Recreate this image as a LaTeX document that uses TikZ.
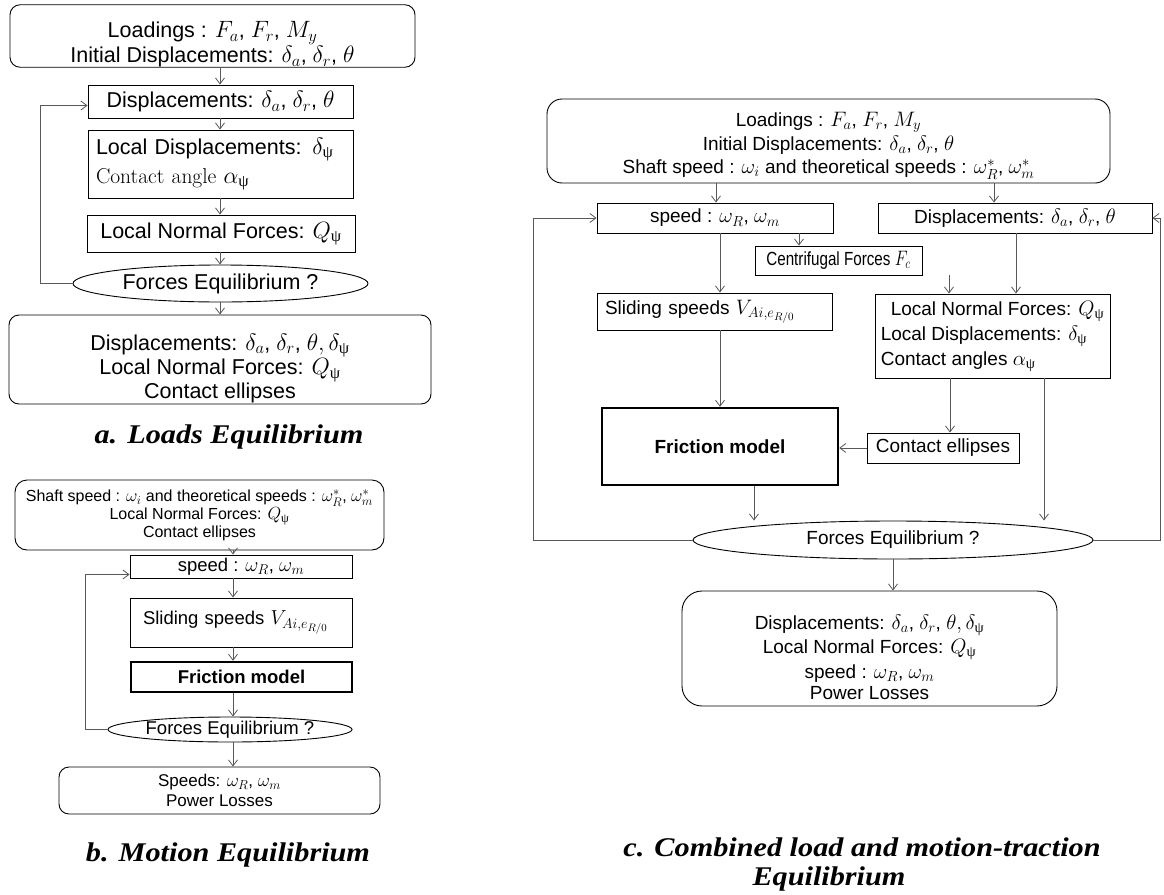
\RequirePackage{fix-cm}
\documentclass[tikz,border=0pt]{standalone}
\usepackage{amsmath}
\usepackage{graphicx}
\usepackage{fontspec}
\setsansfont{Liberation Sans}
\newfontfamily\capfont{Liberation Serif}
\newfontfamily\grkfont{Liberation Serif}
\usetikzlibrary{shapes.geometric,arrows.meta}
\DeclareMathSizes{21.5}{23.6}{16.5}{12.5}
\DeclareMathSizes{19}{20.9}{14.6}{11}
\DeclareMathSizes{18.5}{20.3}{14.2}{10.8}
\DeclareMathSizes{16}{17.6}{12.4}{9.3}
\DeclareMathSizes{17}{18.7}{13}{10}
\newcommand{\mypsi}{\text{\grkfont ψ}}
\newcommand{\fntA}{\sffamily\fontsize{21.5}{25}\selectfont}
\newcommand{\fntAb}{\sffamily\fontsize{21.5}{22}\selectfont}
\newcommand{\fntC}{\sffamily\fontsize{19}{24}\selectfont}
\newcommand{\fntCa}{\sffamily\fontsize{19}{23.5}\selectfont}
\newcommand{\fntCb}{\sffamily\fontsize{19}{25}\selectfont}
\newcommand{\fntCc}{\sffamily\fontsize{19}{24.5}\selectfont}
\newcommand{\fntB}{\sffamily\fontsize{18.5}{22}\selectfont}
\newcommand{\fntBtop}{\sffamily\fontsize{16}{18}\selectfont}
\newcommand{\fntBbot}{\sffamily\fontsize{17}{20}\selectfont}
\tikzset{
  box/.style={draw=black, line width=0.9pt, rectangle, inner sep=0pt, align=center},
  rbox/.style={box, rounded corners=12pt},
  fricbox/.style={box, line width=2.4pt},
  ell/.style={draw=black, ellipse, inner sep=0pt, line width=0.9pt},
  arr/.style={draw=black!65, line width=0.8pt, -{Straight Barb[length=6pt,width=9pt]}},
  capt/.style={font=\capfont\bfseries\itshape\fontsize{27}{32}\selectfont, inner sep=0pt}
}
\begin{document}
\begin{tikzpicture}[x=1pt,y=-1pt]
\useasboundingbox (0,0) rectangle (1164,894);
% ---------------- panel a ----------------
\node[rbox, rounded corners=10pt, minimum width=405, minimum height=62, font=\fntA] (a1) at (212.5,36)
  {\rule{0pt}{33pt}Loadings : $F_a$, $F_r$, $M_y$\\Initial Displacements: $\delta_a$, $\delta_r$, $\theta$};
\node[box, minimum width=265, minimum height=33, font=\fntA] (a2) at (220.5,101.5)
  {Displacements: $\delta_a$, $\delta_r$, $\theta$};
\node[box, minimum width=265, minimum height=68, font=\fntA, text width=249, align=left] (a3) at (220.5,164)
  {Local Displacements: $\delta_{\mypsi}$\\[4pt]{\rmfamily Contact angle} $\alpha_{\mypsi}$};
\node[box, minimum width=268, minimum height=37, font=\fntA] (a4) at (221,233.5)
  {Local Normal Forces: $Q_{\mypsi}$};
\node[ell, minimum width=295, minimum height=37, font=\fntA] (a5) at (220.5,283.5)
  {Forces Equilibrium ?};
\node[rbox, rounded corners=10pt, minimum width=422, minimum height=89, font=\fntAb] (a6) at (220,359.5)
  {\rule{0pt}{34pt}Displacements: $\delta_a$, $\delta_r$, $\theta, \delta_{\mypsi}$\\Local Normal Forces: $Q_{\mypsi}$\\Contact ellipses};
\coordinate (ax) at (220,0);
\coordinate (aL) at (40,0);
\draw[arr] (a1.south -| ax) -- (a2.north -| ax);
\draw[arr] (a2.south -| ax) -- (a3.north -| ax);
\draw[arr] (a3.south -| ax) -- (a4.north -| ax);
\draw[arr] (a4.south -| ax) -- (a5.north -| ax);
\draw[arr] (a5.south -| ax) -- (a6.north -| ax);
\draw[arr] (a5.west) -- (a5.west -| aL) |- ([yshift=-4pt]a2.west);
\node[capt] (capa) at (229,437) {\scalebox{1.12}[1]{a. Loads Equilibrium}};
% ---------------- panel b ----------------
\node[rbox, rounded corners=12pt, minimum width=369, minimum height=70, font=\fntBtop] (b1) at (199.5,515)
  {Shaft speed : $\omega_i$ and theoretical speeds : $\omega_R^*$, $\omega_m^*$\\Local Normal Forces: $Q_{\mypsi}$\\Contact ellipses};
\node[box, minimum width=222, minimum height=23, font=\fntB] (b2) at (241,566.5)
  {speed : $\omega_R$, $\omega_m$};
\node[box, minimum width=222, minimum height=49, font=\fntB, text width=196, align=left] (b3) at (241,622.5)
  {Sliding speeds $V_{Ai,e_{R/0}}$};
\node[fricbox, minimum width=221, minimum height=30, font=\fntB\bfseries] (b4) at (241.5,677)
  {Friction model};
\node[ell, minimum width=244, minimum height=25, font=\fntB] (b5) at (230,729.5)
  {Forces Equilibrium ?};
\node[rbox, rounded corners=10pt, minimum width=321, minimum height=47, font=\fntBbot] (b6) at (219.5,790.5)
  {Speeds: $\omega_R$, $\omega_m$\\Power Losses};
\coordinate (bx) at (233,0);
\coordinate (bL) at (85,0);
\draw[arr] (b1.south -| bx) -- (b2.north -| bx);
\draw[arr] (b2.south -| bx) -- (b3.north -| bx);
\draw[arr] (b3.south -| bx) -- (b4.north -| bx);
\draw[arr] (b4.south -| bx) -- (b5.north -| bx);
\draw[arr] (b5.south -| bx) -- (b6.north -| bx);
\draw[arr] (b5.west) -- (b5.west -| bL) |- ([yshift=-8pt]b2.west);
\node[capt] (capb) at (228,855) {\scalebox{1.12}[1]{b. Motion Equilibrium}};
% ---------------- panel c ----------------
\node[rbox, rounded corners=15pt, minimum width=563, minimum height=84, font=\fntCa] (c1) at (828.5,141)
  {\rule{0pt}{24pt}Loadings : $F_a$, $F_r$, $M_y$\\Initial Displacements: $\delta_a$, $\delta_r$, $\theta$\\Shaft speed : $\omega_i$ and theoretical speeds : $\omega_R^*$, $\omega_m^*$};
\node[box, minimum width=236, minimum height=30, font=\fntC] (c2) at (715,218)
  {speed : $\omega_R$, $\omega_m$};
\node[box, minimum width=274, minimum height=30, font=\fntC] (c3) at (1015,218)
  {Displacements: $\delta_a$, $\delta_r$, $\theta$};
\node[box, minimum width=167, minimum height=29, font=\fntC] (c4) at (838.5,260.5)
  {\scalebox{0.8}[1]{Centrifugal Forces $F_c$}};
\node[box, minimum width=235, minimum height=37, font=\fntC, text width=219, align=left] (c5) at (714.5,311.5)
  {Sliding speeds $V_{Ai,e_{R/0}}$};
\node[box, minimum width=235, minimum height=84, font=\fntCb, align=left] (c6) at (992.5,336)
  {\hspace*{10pt}Local Normal Forces: $Q_{\mypsi}$\\Local Displacements: $\delta_{\mypsi}$\\Contact angles $\alpha_{\mypsi}$};
\node[fricbox, minimum width=236, minimum height=77, font=\fntC\bfseries] (c7) at (720,446.5)
  {Friction model};
\node[box, minimum width=152, minimum height=30, font=\fntC] (c8) at (943,448)
  {Contact ellipses};
\node[ell, minimum width=400, minimum height=38, font=\fntC] (c9) at (893,540)
  {Forces Equilibrium ?};
\node[rbox, rounded corners=20pt, minimum width=375, minimum height=115, font=\fntCc] (c10) at (869.5,648.5)
  {\rule{0pt}{32pt}Displacements: $\delta_a$, $\delta_r$, $\theta, \delta_{\mypsi}$\\Local Normal Forces: $Q_{\mypsi}$\\speed : $\omega_R$, $\omega_m$\\[-3pt]Power Losses};
\coordinate (cxA) at (716,0);
\coordinate (cxB) at (994,0);
\coordinate (cxC) at (799,0);
\coordinate (cxD) at (720,0);
\coordinate (cxE) at (949,0);
\coordinate (cxF) at (1016,0);
\coordinate (cxG) at (950,0);
\coordinate (cxH) at (1044,0);
\coordinate (cxI) at (754,0);
\coordinate (cxL) at (533,0);
\coordinate (cxR) at (1160,0);
\draw[arr] (c1.south -| cxA) -- (c2.north -| cxA);
\draw[arr] (c1.south -| cxB) -- (c3.north -| cxB);
\draw[arr] (c2.south -| cxC) -- (c4.north -| cxC);
\draw[arr] (c2.south -| cxD) -- (c5.north -| cxD);
\draw[arr] (c4.south -| cxE) -- (c6.north -| cxE);
\draw[arr] (c3.south -| cxF) -- (c6.north -| cxF);
\draw[arr] (c5.south -| cxD) -- (c7.north -| cxD);
\draw[arr] (c6.south -| cxG) -- (c8.north -| cxG);
\draw[arr] (c8.west) -- (c8.west -| c7.east);
\draw[arr] (c7.south -| cxI) -- (c9.north -| cxI);
\draw[arr] (c6.south -| cxH) -- (c9.north -| cxH);
\draw[arr] (c9.south) -- (c10.north -| c9.south);
\draw[arr] (c9.west) -- (c9.west -| cxL) |- (c2.west);
\draw[arr] (c9.east) -- (c9.east -| cxR) |- (c3.east);
\node[capt] (capc1) at (862,847) {\scalebox{1.12}[1]{c. Combined load and motion-traction}};
\node[capt] (capc2) at (829,879) {\scalebox{1.12}[1]{Equilibrium}};
\end{tikzpicture}
\end{document}
